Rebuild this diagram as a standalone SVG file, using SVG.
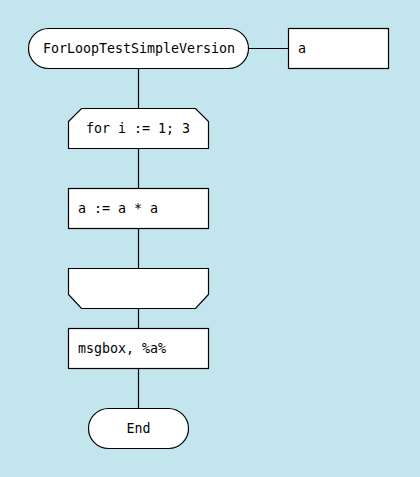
<svg xmlns="http://www.w3.org/2000/svg" width="420" height="477" viewBox="0 0 420 477">
  <style>
    .shape { fill: #ffffff; stroke: #000000; stroke-width: 1.2; }
    .wire { stroke: #000000; stroke-width: 1.2; fill: none; }
    .label { font-family: "DejaVu Sans Mono", "Liberation Mono", monospace; font-size: 13.3px; fill: #000000; }
  </style>
  <rect x="0" y="0" width="420" height="477" fill="#c3e6ee"/>

  <!-- connectors -->
  <g id="connectors">
    <line class="wire" x1="248.5" y1="48.5" x2="288.5" y2="48.5"/>
    <line class="wire" x1="138.5" y1="68.5" x2="138.5" y2="108.5"/>
    <line class="wire" x1="138.5" y1="148.5" x2="138.5" y2="188.5"/>
    <line class="wire" x1="138.5" y1="228.5" x2="138.5" y2="268.5"/>
    <line class="wire" x1="138.5" y1="308.5" x2="138.5" y2="328.5"/>
    <line class="wire" x1="138.5" y1="368.5" x2="138.5" y2="408.5"/>
  </g>

  <!-- start terminal -->
  <g id="start">
    <rect class="shape" x="28.5" y="28.5" width="220" height="40" rx="20" ry="20"/>
    <text class="label" x="43" y="52.5">ForLoopTestSimpleVersion</text>
  </g>

  <!-- parameter -->
  <g id="param">
    <rect class="shape" x="288.5" y="28.5" width="100" height="40"/>
    <text class="label" x="298" y="52.5">a</text>
  </g>

  <!-- loop head -->
  <g id="loop-start">
    <path class="shape" d="M68.5,121.5 L81.5,108.5 L195.5,108.5 L208.5,121.5 L208.5,148.5 L68.5,148.5 Z"/>
    <text class="label" x="86" y="132.5">for i := 1; 3</text>
  </g>

  <!-- loop body -->
  <g id="assign">
    <rect class="shape" x="68.5" y="188.5" width="140" height="40"/>
    <text class="label" x="78" y="212.5">a := a * a</text>
  </g>

  <!-- loop end -->
  <g id="loop-end">
    <path class="shape" d="M68.5,268.5 L208.5,268.5 L208.5,294.5 L195.5,308.5 L81.5,308.5 L68.5,294.5 Z"/>
  </g>

  <!-- message -->
  <g id="msgbox">
    <rect class="shape" x="68.5" y="328.5" width="140" height="40"/>
    <text class="label" x="78" y="352.5">msgbox, %a%</text>
  </g>

  <!-- end terminal -->
  <g id="end">
    <rect class="shape" x="88.5" y="408.5" width="100" height="40" rx="20" ry="20"/>
    <text class="label" x="138.5" y="432.5" text-anchor="middle">End</text>
  </g>
</svg>
